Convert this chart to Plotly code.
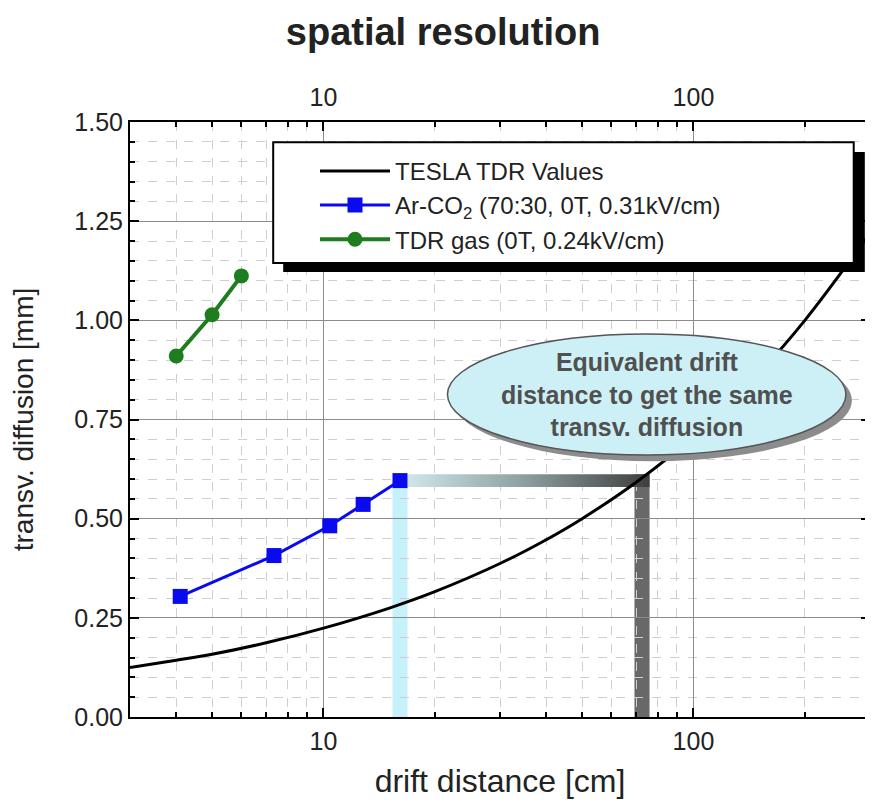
import numpy as np
import plotly.graph_objects as go

# ---------------- data ----------------
tesla_x = [3, 4, 5, 7, 10, 15, 20, 30, 40, 50, 70, 100, 150, 200, 300]
tesla_y = [0.125, 0.143, 0.158, 0.187, 0.224, 0.274, 0.316, 0.387, 0.447,
           0.500, 0.592, 0.707, 0.866, 1.000, 1.220]

arco2_x = [4.1, 7.35, 10.4, 12.8, 16.1]
arco2_y = [0.304, 0.407, 0.482, 0.536, 0.596]

tdrgas_x = [4.0, 5.0, 6.0]
tdrgas_y = [0.910, 1.014, 1.112]

equiv_x = 72.6          # equivalent drift distance read on the TESLA curve
x_range = [3, 300]
y_range = [0, 1.5]
y_ticks = [0.0, 0.25, 0.5, 0.75, 1.0, 1.25, 1.5]

names = ["TESLA TDR Values",
         "Ar-CO<sub>2</sub> (70:30, 0T, 0.31kV/cm)",
         "TDR gas (0T, 0.24kV/cm)"]

FONT = "Liberation Sans, Arial, sans-serif"

# derived annotation geometry
xb = arco2_x[-1]
yb = arco2_y[-1]
half = 1.048          # multiplicative half-width on the log axis
bar_h = 0.016

fig = go.Figure()

# horizontal gradient bar from last Ar-CO2 point to the TESLA curve
fig.add_trace(go.Scatter(
    x=[xb * half, equiv_x * half, equiv_x * half, xb * half, xb * half],
    y=[yb - bar_h, yb - bar_h, yb + bar_h, yb + bar_h, yb - bar_h],
    mode="lines", line=dict(width=0), fill="toself",
    fillgradient=dict(type="horizontal",
                      colorscale=[[0, "#cfe6e8"], [0.5, "#8a9c9e"], [1, "#3e3e3e"]]),
    showlegend=False, hoverinfo="skip"))

fig.add_trace(go.Scatter(x=tesla_x, y=tesla_y, mode="lines", name=names[0],
                         line=dict(color="black", width=3, shape="spline")))
fig.add_trace(go.Scatter(x=arco2_x, y=arco2_y, mode="lines+markers", name=names[1],
                         line=dict(color="#0a0aee", width=3),
                         marker=dict(symbol="square", size=15, color="#0a0aee")))
fig.add_trace(go.Scatter(x=tdrgas_x, y=tdrgas_y, mode="lines+markers", name=names[2],
                         line=dict(color="#1e7d1e", width=4),
                         marker=dict(symbol="circle", size=15, color="#1e7d1e")))
# anchor for the top axis
fig.add_trace(go.Scatter(x=tesla_x, y=tesla_y, xaxis="x2", mode="none",
                         showlegend=False, hoverinfo="skip"))

shapes = [
    # light cyan vertical band at the last Ar-CO2 point
    dict(type="rect", xref="x", yref="y", x0=xb / half, x1=xb * half,
         y0=0, y1=yb, fillcolor="#c6f1fa", line=dict(width=0), layer="below"),
    # dark vertical bar at the equivalent distance
    dict(type="rect", xref="x", yref="y", x0=equiv_x / half, x1=equiv_x * half,
         y0=0, y1=yb + bar_h, fillcolor="#686868", line=dict(width=0), layer="below"),
    # legend shadow and box
    dict(type="rect", xref="paper", yref="paper", x0=0.207, x1=0.993, y0=0.748, y1=0.9496,
         fillcolor="black", line=dict(width=0), layer="above"),
    dict(type="rect", xref="paper", yref="paper", x0=0.1935, x1=0.978, y0=0.763, y1=0.966,
         fillcolor="white", line=dict(color="black", width=2), layer="above"),
    # ellipse shadow and ellipse
    dict(type="circle", xref="paper", yref="paper", x0=0.437, x1=0.9755, y0=0.430, y1=0.634,
         fillcolor="#8c8c8c", line=dict(width=0), layer="above"),
    dict(type="circle", xref="paper", yref="paper", x0=0.429, x1=0.9675, y0=0.4403, y1=0.6437,
         fillcolor="#cdf0f6", line=dict(color="#555555", width=1.5), layer="above"),
]

annotations = [
    dict(xref="paper", yref="paper", x=0.698, y=0.542,
         text="Equivalent drift<br>distance to get the same<br>transv. diffusion",
         showarrow=False, font=dict(family=FONT, size=25, color="#505050", weight="bold"),
         align="center", xanchor="center", yanchor="middle"),
]

axis_common = dict(showline=True, linecolor="black", linewidth=2,
                   tickfont=dict(family=FONT, size=25, color="#222222"))

# the page body adds an 8px offset, so the figure is sized to fit the 873x807 window
fig.update_layout(
    width=865, height=799,
    margin=dict(l=122, r=1, t=114, b=90),
    paper_bgcolor="white", plot_bgcolor="white",
    title=dict(text="<b>spatial resolution</b>", x=0.503, xanchor="center",
               y=1 - 24 / 799, yanchor="middle", yref="container",
               font=dict(family=FONT, size=38, color="#222222")),
    xaxis=dict(type="log", range=[np.log10(x_range[0]), np.log10(x_range[1])],
               dtick=1, ticks="inside", ticklen=9, tickwidth=2, tickcolor="black",
               showgrid=True, gridcolor="#8c8c8c", gridwidth=1,
               minor=dict(dtick="D1", ticks="inside", ticklen=5, tickwidth=2, tickcolor="black",
                          showgrid=True, gridcolor="#cfcfcf", griddash="dash", gridwidth=1),
               title=dict(text="drift distance [cm]", standoff=16,
                          font=dict(family=FONT, size=32, color="#222222")),
               ticklabelstandoff=1, zeroline=False, **axis_common),
    xaxis2=dict(type="log", range=[np.log10(x_range[0]), np.log10(x_range[1])],
                overlaying="x", side="top", anchor="y",
                dtick=1, ticks="inside", ticklen=9, tickwidth=2, tickcolor="black",
                minor=dict(dtick="D1", ticks="inside", ticklen=5, tickwidth=2, tickcolor="black"),
                showgrid=False, ticklabelstandoff=4, **axis_common),
    yaxis=dict(range=y_range, tickvals=y_ticks, tickformat=".2f",
               ticks="inside", ticklen=9, tickwidth=2, tickcolor="black", mirror="ticks",
               showgrid=True, gridcolor="#8c8c8c", gridwidth=1,
               minor=dict(dtick=0.05, ticks="inside", ticklen=5, tickwidth=2, tickcolor="black",
                          showgrid=True, gridcolor="#cfcfcf", griddash="dash", gridwidth=1),
               title=dict(text="transv. diffusion [mm]", standoff=38,
                          font=dict(family=FONT, size=28, color="#222222")),
               zeroline=False, **axis_common),
    legend=dict(x=0.25, y=0.955, xanchor="left", yanchor="top",
                bgcolor="rgba(0,0,0,0)", borderwidth=0, itemwidth=70,
                font=dict(family=FONT, size=24, color="#222222"),
                tracegroupgap=0),
    shapes=shapes,
    annotations=annotations,
)

fig.write_html("out.html")
